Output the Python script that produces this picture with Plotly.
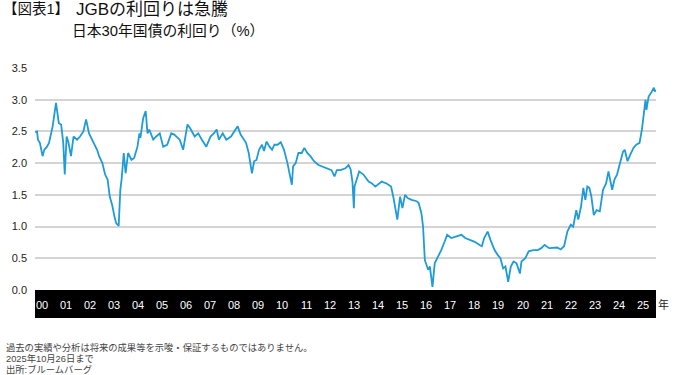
import plotly.graph_objects as go

# --- data ---
dates = [
    "2000-01-03", "2000-02-01", "2000-02-15", "2000-03-15", "2000-04-25", "2000-05-20", "2000-07-01",
    "2000-08-01", "2000-09-25", "2000-11-15", "2000-12-28", "2001-02-01", "2001-03-05", "2001-03-28",
    "2001-04-25", "2001-05-20", "2001-07-01", "2001-08-08", "2001-10-01", "2001-11-15", "2002-01-05",
    "2002-02-15", "2002-04-01", "2002-06-01", "2002-08-01", "2002-09-01", "2002-10-20", "2002-12-01",
    "2003-01-08", "2003-02-10", "2003-03-18", "2003-04-28", "2003-05-20", "2003-06-25", "2003-07-20",
    "2003-08-10", "2003-09-10", "2003-10-08", "2003-11-15", "2004-01-05", "2004-02-15", "2004-04-05",
    "2004-05-05", "2004-05-20", "2004-07-01", "2004-08-08", "2004-09-05", "2004-10-01", "2004-12-01",
    "2005-01-15", "2005-03-10", "2005-05-01", "2005-07-01", "2005-09-01", "2005-10-15", "2006-01-08",
    "2006-02-28", "2006-05-05", "2006-06-15", "2006-08-22", "2006-10-15", "2006-12-10", "2007-02-15",
    "2007-04-20", "2007-06-10", "2007-07-22", "2007-08-25", "2007-10-22", "2007-12-15", "2008-02-25",
    "2008-04-20", "2008-06-05", "2008-07-20", "2008-09-12", "2008-10-10", "2008-11-20", "2009-01-08",
    "2009-02-10", "2009-03-18", "2009-04-25", "2009-06-10", "2009-07-10", "2009-08-18", "2009-10-01",
    "2009-11-10", "2009-12-15", "2010-02-01", "2010-03-22", "2010-05-10", "2010-07-01", "2010-08-05",
    "2010-09-06", "2010-09-25", "2010-11-03", "2010-12-15", "2011-02-03", "2011-03-15", "2011-04-28",
    "2011-06-15", "2011-08-08", "2011-10-15", "2011-12-10", "2012-02-25", "2012-05-01", "2012-06-15",
    "2012-07-20", "2012-09-15", "2012-11-28", "2013-01-15", "2013-02-15", "2013-03-15", "2013-04-05",
    "2013-04-15", "2013-06-25", "2013-08-28", "2013-11-15", "2014-01-05", "2014-02-25", "2014-06-01",
    "2014-08-15", "2014-10-22", "2014-11-25", "2015-01-25", "2015-03-08", "2015-04-12", "2015-05-22",
    "2015-07-01", "2015-08-30", "2015-11-15", "2015-12-15", "2016-01-26", "2016-02-20", "2016-03-18",
    "2016-05-08", "2016-06-03", "2016-07-12", "2016-08-15", "2016-09-25", "2016-11-22", "2017-01-12",
    "2017-02-20", "2017-04-22", "2017-07-01", "2017-09-25", "2017-11-20", "2018-01-30", "2018-04-15",
    "2018-06-28", "2018-08-01", "2018-09-05", "2018-10-28", "2018-12-10", "2019-02-10", "2019-04-01",
    "2019-05-10", "2019-06-20", "2019-07-25", "2019-09-05", "2019-10-15", "2019-11-25", "2020-01-10",
    "2020-03-01", "2020-03-25", "2020-05-22", "2020-07-12", "2020-09-20", "2020-11-25", "2021-01-20",
    "2021-03-10", "2021-05-20", "2021-07-22", "2021-09-20", "2021-11-10", "2022-01-01", "2022-02-20",
    "2022-04-12", "2022-05-20", "2022-07-05", "2022-08-05", "2022-09-16", "2022-10-20", "2022-11-20",
    "2022-12-20", "2023-01-20", "2023-02-20", "2023-03-28", "2023-05-10", "2023-06-28", "2023-08-15",
    "2023-10-01", "2023-11-06", "2023-12-10", "2024-01-01", "2024-02-05", "2024-03-15", "2024-04-22",
    "2024-06-14", "2024-07-10", "2024-08-22", "2024-10-01", "2024-11-20", "2025-01-01", "2025-02-20",
    "2025-03-28", "2025-04-15", "2025-05-22", "2025-06-05", "2025-07-08", "2025-08-10", "2025-09-26",
    "2025-10-10", "2025-10-26",
]
yields = [
    2.49, 2.50, 2.37, 2.32, 2.11, 2.21, 2.26,
    2.32, 2.58, 2.95, 2.63, 2.61, 2.32, 1.82,
    2.42, 2.34, 2.11, 2.42, 2.37, 2.42, 2.50,
    2.69, 2.47, 2.34, 2.21, 2.11, 2.00, 1.82,
    1.74, 1.47, 1.34, 1.13, 1.05, 1.01, 1.58,
    1.76, 2.16, 1.84, 2.16, 2.05, 2.08, 2.26,
    2.47, 2.40, 2.71, 2.82, 2.47, 2.53, 2.37,
    2.42, 2.47, 2.26, 2.29, 2.47, 2.45, 2.37,
    2.21, 2.61, 2.55, 2.42, 2.47, 2.37, 2.26,
    2.42, 2.47, 2.53, 2.37, 2.47, 2.37, 2.42,
    2.50, 2.58, 2.45, 2.37, 2.32, 2.16, 1.84,
    2.03, 2.05, 2.21, 2.29, 2.19, 2.34, 2.26,
    2.21, 2.29, 2.29, 2.33, 2.21, 2.00, 1.84,
    1.66, 1.95, 2.00, 2.16, 2.16, 2.24, 2.16,
    2.11, 2.03, 1.97, 1.95, 1.92, 1.89, 1.79,
    1.89, 1.89, 1.92, 1.97, 1.90, 1.70, 1.29,
    1.63, 1.87, 1.82, 1.71, 1.68, 1.63, 1.71,
    1.68, 1.63, 1.47, 1.11, 1.47, 1.29, 1.50,
    1.45, 1.42, 1.40, 1.37, 1.21, 1.00, 0.47,
    0.32, 0.37, 0.05, 0.42, 0.50, 0.63, 0.76,
    0.87, 0.82, 0.84, 0.87, 0.82, 0.79, 0.76,
    0.71, 0.69, 0.82, 0.92, 0.79, 0.63, 0.55,
    0.50, 0.34, 0.37, 0.13, 0.37, 0.45, 0.42,
    0.26, 0.45, 0.50, 0.61, 0.63, 0.63, 0.66,
    0.71, 0.66, 0.66, 0.67, 0.64, 0.69, 0.92,
    1.03, 1.00, 1.26, 1.11, 1.32, 1.61, 1.42,
    1.63, 1.61, 1.47, 1.18, 1.26, 1.24, 1.58,
    1.68, 1.87, 1.68, 1.58, 1.74, 1.82, 1.97,
    2.18, 2.21, 2.03, 2.13, 2.24, 2.29, 2.32,
    2.53, 2.68, 3.00, 2.84, 3.05, 3.10, 3.19,
    3.13, 3.16,
]
year_labels = ["00", "01", "02", "03", "04", "05", "06", "07", "08", "09", "10", "11", "12",
               "13", "14", "15", "16", "17", "18", "19", "20", "21", "22", "23", "24", "25"]
year_label_dates = [f"{2000 + i}-04-10" for i in range(len(year_labels))]
y_ticks = [0.0, 0.5, 1.0, 1.5, 2.0, 2.5, 3.0, 3.5]

title_tag = "【図表1】"
title_main = "JGBの利回りは急騰"
title_sub = "日本30年国債の利回り（%）"
notes = [
    "過去の実績や分析は将来の成果等を示唆・保証するものではありません。",
    "2025年10月26日まで",
    "出所:ブルームバーグ",
]

# --- layout geometry ---
W, H = 674, 375
ML, MR, MT, MB = 32, 18, 68, 85
PW, PH = W - ML - MR, H - MT - MB
FONT = "Liberation Sans, Arial, Noto Sans CJK JP, sans-serif"


def px(x):
    return (x - ML) / PW


def py(y):
    return (H - MB - y) / PH


fig = go.Figure()
fig.add_trace(go.Scatter(x=dates, y=yields, mode="lines",
                         line=dict(color="#1f9bd7", width=1.8), hoverinfo="skip"))

annotations = []
annotations.append(dict(text=title_tag, x=px(-2), y=py(9.5), xref="paper", yref="paper",
                        xanchor="left", yanchor="middle", showarrow=False,
                        font=dict(size=14.5, color="#111", family=FONT)))
annotations.append(dict(text=title_main, x=px(71), y=py(9.5), xref="paper", yref="paper",
                        xanchor="left", yanchor="middle", showarrow=False,
                        font=dict(size=17, color="#111", family=FONT)))
annotations.append(dict(text=title_sub, x=px(67), y=py(31), xref="paper", yref="paper",
                        xanchor="left", yanchor="middle", showarrow=False,
                        font=dict(size=14.8, color="#111", family=FONT)))
for i, t in enumerate(notes):
    annotations.append(dict(text=t, x=px(1), y=py(347 + 11.2 * i), xref="paper", yref="paper",
                            xanchor="left", yanchor="middle", showarrow=False,
                            font=dict(size=9.3, color="#444", family=FONT)))
for d, lab in zip(year_label_dates, year_labels):
    annotations.append(dict(text=lab, x=d, y=py(305), xref="x", yref="paper",
                            xanchor="center", yanchor="middle", showarrow=False,
                            font=dict(size=11, color="white", family=FONT)))
annotations.append(dict(text="年", x=px(664), y=py(304), xref="paper", yref="paper",
                        xanchor="center", yanchor="middle", showarrow=False,
                        font=dict(size=11, color="#222", family=FONT)))

fig.update_layout(
    width=W, height=H,
    margin=dict(l=ML, r=MR, t=MT, b=MB, pad=0),
    paper_bgcolor="white", plot_bgcolor="white",
    showlegend=False,
    annotations=annotations,
    shapes=[dict(type="rect", xref="paper", yref="paper", x0=0, x1=1,
                 y0=py(318), y1=py(290), fillcolor="black", line=dict(width=0),
                 layer="above")],
    xaxis=dict(range=["2000-01-01", "2025-10-28"], showgrid=False, showticklabels=False,
               zeroline=False, showline=False, ticks=""),
    yaxis=dict(range=[0, 3.5], tickvals=y_ticks, ticktext=[f"{v:.1f}" for v in y_ticks],
               showgrid=True, gridcolor="#d4d4d4", gridwidth=1.5, zeroline=False,
               showline=False, ticks="", ticklabelstandoff=7,
               tickfont=dict(size=11, color="#222", family=FONT)),
)

fig.write_html("out.html", config={"displayModeBar": False},
               post_script="document.body.style.margin='0';"
               "document.body.style.overflow='hidden';")
